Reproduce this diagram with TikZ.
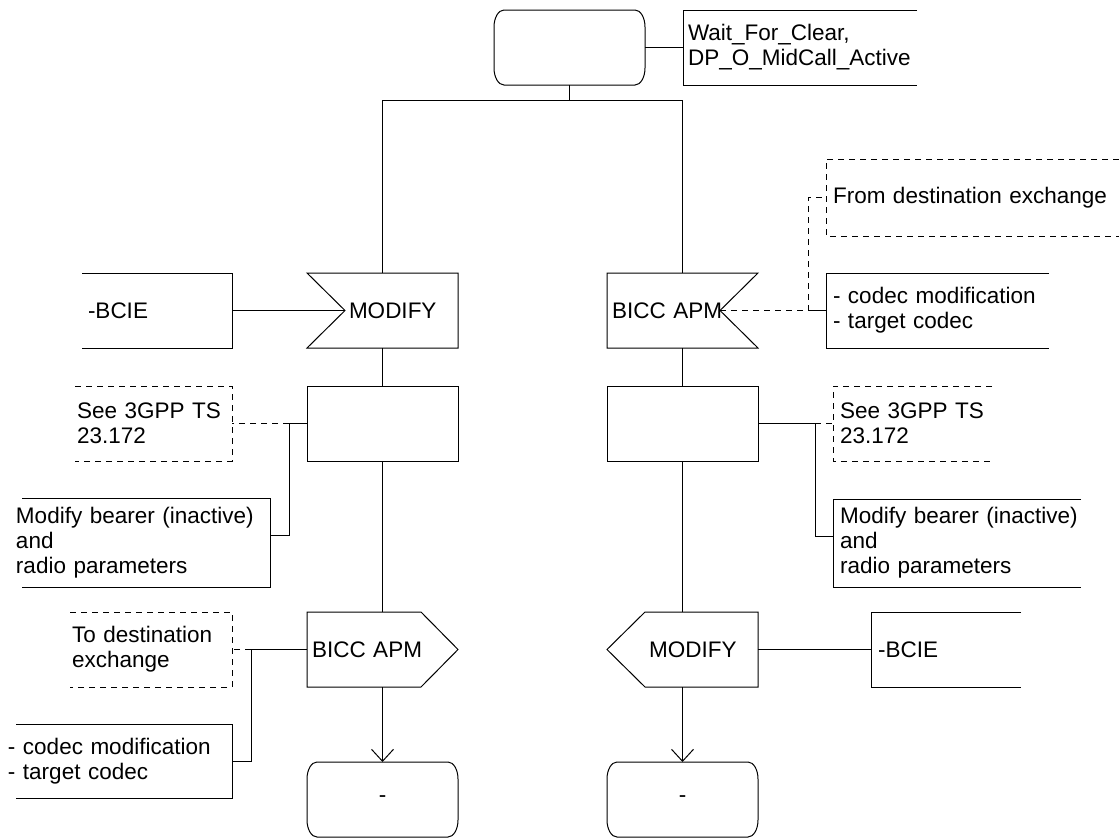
\documentclass[tikz,border=0pt]{standalone}
\usepackage{fontspec}
\setmainfont{Liberation Sans}
\usetikzlibrary{arrows.meta}
\newcommand\stateshape[1]{\draw[ln] ([xshift=10pt]#1.north west) -- ([xshift=-10pt]#1.north east) arc[start angle=90,end angle=0,x radius=10pt,y radius=17pt] -- ([yshift=17pt]#1.south east) arc[start angle=0,end angle=-90,x radius=10pt,y radius=17pt] -- ([xshift=10pt]#1.south west) arc[start angle=270,end angle=180,x radius=10pt,y radius=17pt] -- ([yshift=-17pt]#1.north west) arc[start angle=180,end angle=90,x radius=10pt,y radius=17pt] -- cycle;}
\tikzset{
  every node/.style={font=\fontsize{22.5pt}{25pt}\selectfont, inner sep=0pt, outer sep=0pt},
  ln/.style={line width=1pt, draw=black},
  dsh/.style={line width=1pt, draw=black, dash pattern=on 6pt off 5pt},
  shp/.style={minimum width=151pt, minimum height=75pt},
  cmtbox/.style={align=left, minimum height=75pt},
  arr/.style={ln, -{Straight Barb[length=12pt,width=22pt]}},
}
\begin{document}
\begin{tikzpicture}[x=1pt,y=-1pt]
\useasboundingbox (0,0) rectangle (1119,838);
% main symbols
\node[shp] (s0) at (569.5,47.5) {};
\node[shp, align=left, text width=67pt, inner xsep=42pt] (inL) at (382.5,310.5) {MODIFY};
\node[shp, align=left, text width=141pt, inner xsep=5pt] (inR) at (682.5,310.5) {BICC APM};
\node[shp] (pL) at (382.5,423.5) {};
\node[shp] (pR) at (682.5,423.5) {};
\node[shp, align=left, text width=141pt, inner xsep=5pt] (outL) at (382.5,649.5) {BICC APM};
\node[shp, align=left, text width=67pt, inner xsep=42pt] (outR) at (682.5,649.5) {MODIFY};
\node[shp] (sL) at (382.5,799.5) {-};
\node[shp] (sR) at (682.5,799.5) {-};
% comments
\node[cmtbox, text width=224pt, inner xsep=5pt] (ctop) at (800,47.5) {Wait\_For\_Clear,\\DP\_O\_MidCall\_Active};
\node[cmtbox, text width=138pt, inner xsep=6pt] (cbL) at (157,310.5) {-BCIE};
\node[cmtbox, text width=279pt, inner xsep=7pt, minimum height=77pt] (cfrom) at (972.5,197.5) {From destination exchange};
\node[cmtbox, text width=209pt, inner xsep=7pt] (ccR) at (937.5,310.5) {- codec modification\\- target codec};
\node[cmtbox, text width=153pt, inner xsep=2pt] (cseeL) at (153.5,423.5) {See 3GPP TS\\23.172};
\node[cmtbox, text width=254pt, inner xsep=0pt, minimum height=89pt] (cmodL) at (143,542.5) {Modify bearer (inactive)\\and\\radio parameters};
\node[cmtbox, text width=145pt, inner xsep=7pt] (cseeR) at (912.5,423.5) {See 3GPP TS\\23.172};
\node[cmtbox, text width=246pt, inner xsep=7pt, minimum height=88pt] (cmodR) at (963,543) {Modify bearer (inactive)\\and\\radio parameters};
\node[cmtbox, text width=158pt, inner xsep=2pt] (ctoL) at (151,649.5) {To destination\\exchange};
\node[cmtbox, text width=224pt, inner xsep=0pt, minimum height=74pt] (ccL) at (120,761) {- codec modification\\- target codec};
\node[cmtbox, text width=136pt, inner xsep=7pt] (cbR) at (946,649.5) {-BCIE};
% symbol outlines
\stateshape{s0}
\stateshape{sL}
\stateshape{sR}
\draw[ln] (inL.north west) -- (inL.north east) -- (inL.south east) -- (inL.south west) -- ([xshift=38pt]inL.west) -- cycle;
\draw[ln] (inR.north west) -- (inR.north east) -- ([xshift=-38pt]inR.east) -- (inR.south east) -- (inR.south west) -- cycle;
\draw[ln] (pL.north west) rectangle (pL.south east);
\draw[ln] (pR.north west) rectangle (pR.south east);
\draw[ln] (outL.north west) -- ([xshift=-37pt]outL.north east) -- (outL.east) -- ([xshift=-37pt]outL.south east) -- (outL.south west) -- cycle;
\draw[ln] ([xshift=38pt]outR.north west) -- (outR.north east) -- (outR.south east) -- ([xshift=38pt]outR.south west) -- (outR.west) -- cycle;
% comment brackets
\draw[ln] (ctop.north east) -- (ctop.north west) -- (ctop.south west) -- (ctop.south east);
\draw[ln] (cbL.north west) -- (cbL.north east) -- (cbL.south east) -- (cbL.south west);
\draw[dsh] (cfrom.north east) -- (cfrom.north west) -- (cfrom.south west) -- (cfrom.south east);
\draw[ln] (ccR.north east) -- (ccR.north west) -- (ccR.south west) -- (ccR.south east);
\draw[dsh] (cseeL.north west) -- (cseeL.north east) -- (cseeL.south east) -- (cseeL.south west);
\draw[ln] ([xshift=6pt]cmodL.north west) -- (cmodL.north east) -- (cmodL.south east) -- ([xshift=6pt]cmodL.south west);
\draw[dsh] (cseeR.north east) -- (cseeR.north west) -- (cseeR.south west) -- (cseeR.south east);
\draw[ln] ([xshift=-12pt]cmodR.north east) -- (cmodR.north west) -- (cmodR.south west) -- ([xshift=-12pt]cmodR.south east);
\draw[dsh] (ctoL.north west) -- (ctoL.north east) -- (ctoL.south east) -- (ctoL.south west);
\draw[ln] ([xshift=8pt]ccL.north west) -- (ccL.north east) -- (ccL.south east) -- ([xshift=8pt]ccL.south west);
\draw[ln] (cbR.north east) -- (cbR.north west) -- (cbR.south west) -- (cbR.south east);
% connectors
\draw[ln] (s0.east) -- (ctop.west);
\path (s0.south) ++(0,15) coordinate (j0);
\draw[ln] (s0.south) -- (j0);
\draw[ln] (j0) -| (inL.north);
\draw[ln] (j0) -| (inR.north);
\coordinate (tipL) at ([xshift=38pt]inL.west);
\coordinate (tipR) at ([xshift=-38pt]inR.east);
\draw[ln] (cbL.east) -- (tipL);
\draw[ln] (inL.south) -- (pL.north);
\draw[ln] (pL.south) -- (outL.north);
\draw[arr] (outL.south) -- (sL.north);
\draw[ln] (inR.south) -- (pR.north);
\draw[ln] (pR.south) -- (outR.north);
\draw[arr] (outR.south) -- (sR.north);
% left process comments
\coordinate (kL) at (289,423.5);
\draw[ln] (pL.west) -- (kL) |- ([yshift=7pt]cmodL.east);
\draw[dsh] (kL) -- (cseeL.east);
% right input comments
\coordinate (kR) at (808,310.5);
\draw[dsh] (tipR) -- (kR) |- (cfrom.west);
\draw[ln] (kR) -- (ccR.west);
% right process comments
\coordinate (mR) at (815,423.5);
\draw[ln] (pR.east) -- (mR) |- ([yshift=7pt]cmodR.west);
\draw[dsh] (mR) -- (cseeR.west);
% outputs
\draw[ln] (outR.east) -- (cbR.west);
\coordinate (nL) at (251,649.5);
\draw[ln] (outL.west) -- (nL) |- (ccL.east);
\draw[dsh] (nL) -- (ctoL.east);
\end{tikzpicture}
\end{document}
